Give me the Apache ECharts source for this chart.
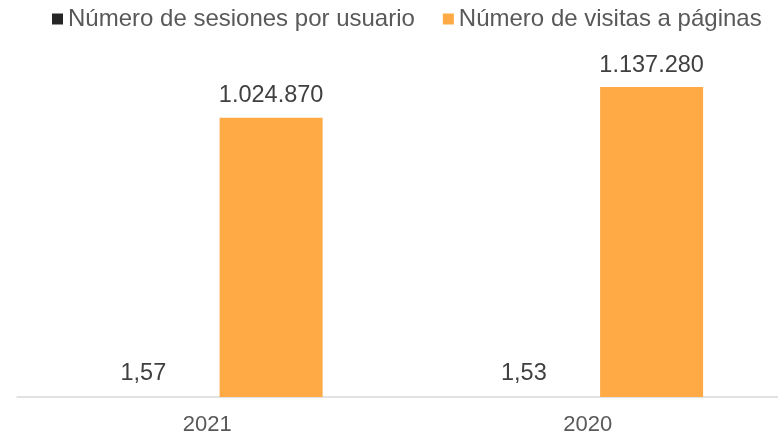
<!DOCTYPE html>
<html>
<head>
<meta charset="utf-8">
<script src="https://cdn.jsdelivr.net/npm/echarts@6/dist/echarts.min.js"></script>
<style>html,body{margin:0;padding:0;background:#fff}#c{width:778px;height:437px}</style>
</head>
<body>
<div id="c"></div>
<script>
const categories = ['2021', '2020'];
const seriesNames = ['Número de sesiones por usuario', 'Número de visitas a páginas'];
const sesionesPorUsuario = [1.57, 1.53];
const visitasPaginas = [1024870, 1137280];

function fmtThousands(v) {
  return String(Math.round(v)).replace(/\B(?=(\d{3})+(?!\d))/g, '.');
}
function fmtDecimal(v) {
  return v.toFixed(2).replace('.', ',');
}

const chart = echarts.init(document.getElementById('c'));
const font = '"Liberation Sans", Arial, sans-serif';
chart.setOption({
  animation: false,
  textStyle: { fontFamily: font },
  legend: {
    top: 7,
    left: 52,
    padding: 0,
    itemWidth: 11,
    itemHeight: 11,
    itemGap: 28,
    icon: 'rect',
    textStyle: { fontSize: 24, color: '#595959', fontFamily: font },
    data: seriesNames
  },
  grid: { left: 17, right: -9, top: 70, bottom: 40, containLabel: false },
  xAxis: {
    type: 'category',
    data: categories,
    axisLine: { lineStyle: { color: '#d9d9d9', width: 1.5 } },
    axisTick: { show: false },
    axisLabel: { fontSize: 22, color: '#595959', margin: 17, fontFamily: font }
  },
  yAxis: {
    type: 'value',
    min: 0,
    max: 1200000,
    show: false,
    splitLine: { show: false }
  },
  series: [
    {
      name: seriesNames[0],
      type: 'bar',
      data: sesionesPorUsuario,
      barWidth: 103,
      barGap: '24%',
      itemStyle: { color: '#262626' },
      label: {
        show: true, position: 'top', distance: 11,
        fontSize: 23.5, color: '#404040', fontFamily: font,
        formatter: p => fmtDecimal(p.value)
      }
    },
    {
      name: seriesNames[1],
      type: 'bar',
      data: visitasPaginas,
      barWidth: 103,
      barGap: '24%',
      itemStyle: { color: '#ffaa44' },
      label: {
        show: true, position: 'top', distance: 10,
        fontSize: 23.5, color: '#404040', fontFamily: font,
        formatter: p => fmtThousands(p.value)
      }
    }
  ]
});
</script>
</body>
</html>
